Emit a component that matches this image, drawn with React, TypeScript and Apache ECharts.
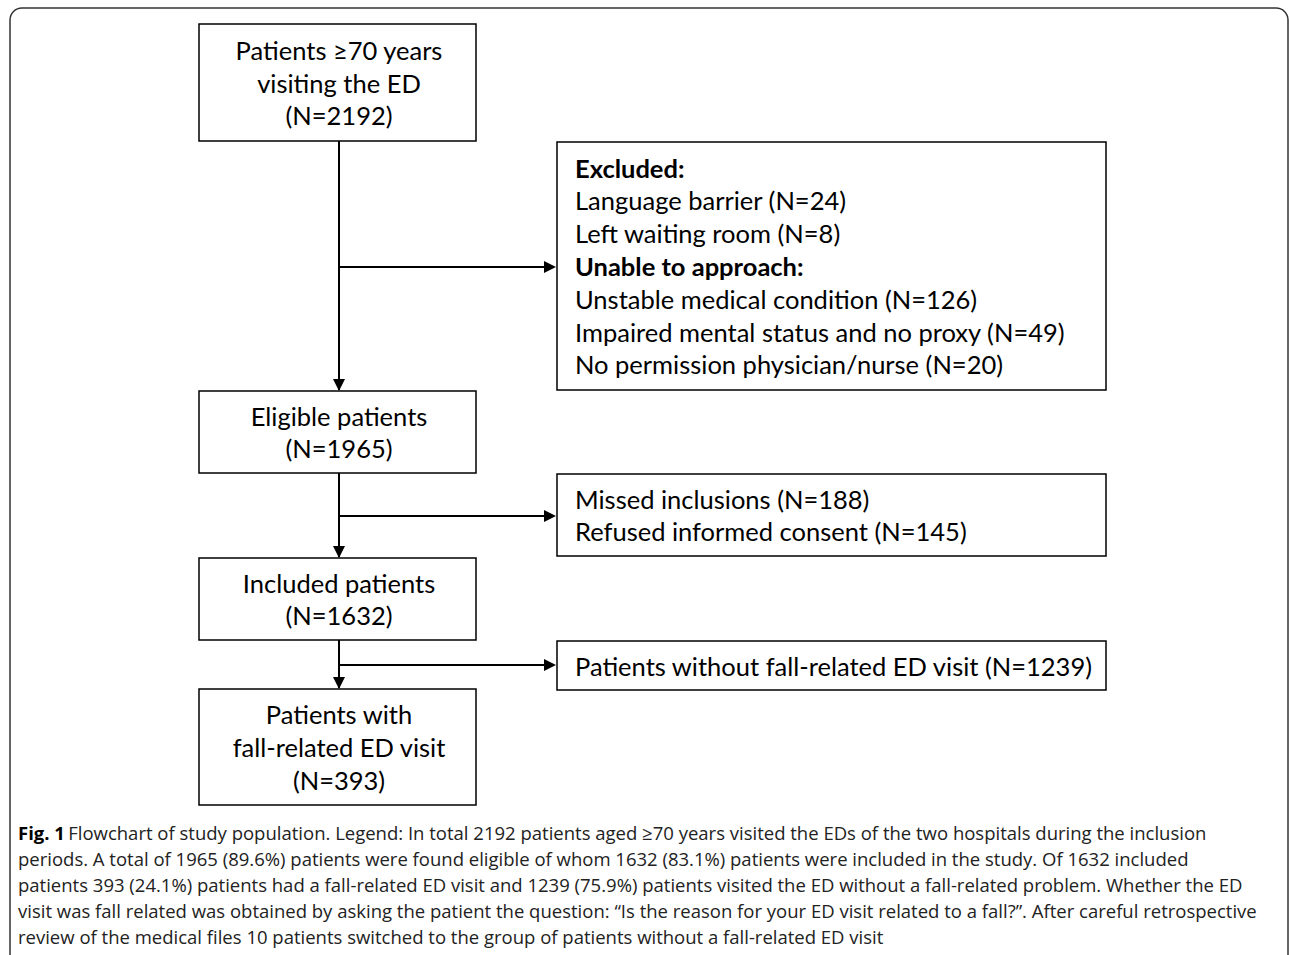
import { useEffect, useRef } from "react";
import * as echarts from "echarts";

const mainBoxes = [
  { lines: ["Patients ≥70 years", "visiting the ED", "(N=2192)"], top: 24, bottom: 141 },
  { lines: ["Eligible patients", "(N=1965)"], top: 391, bottom: 473 },
  { lines: ["Included patients", "(N=1632)"], top: 558, bottom: 640 },
  { lines: ["Patients with", "fall-related ED visit", "(N=393)"], top: 689, bottom: 805 },
];

const sideBoxes = [
  {
    lines: [
      "*Excluded:",
      "Language barrier (N=24)",
      "Left waiting room (N=8)",
      "*Unable to approach:",
      "Unstable medical condition (N=126)",
      "Impaired mental status and no proxy (N=49)",
      "No permission physician/nurse (N=20)",
    ],
    top: 142,
    bottom: 390,
    branchY: 267,
  },
  { lines: ["Missed inclusions (N=188)", "Refused informed consent (N=145)"], top: 474, bottom: 556, branchY: 516 },
  { lines: ["Patients without fall-related ED visit (N=1239)"], top: 641, bottom: 690, branchY: 665 },
];

const captionLines = [
  "Flowchart of study population. Legend: In total 2192 patients aged ≥70 years visited the EDs of the two hospitals during the inclusion",
  "periods. A total of 1965 (89.6%) patients were found eligible of whom 1632 (83.1%) patients were included in the study. Of 1632 included",
  "patients 393 (24.1%) patients had a fall-related ED visit and 1239 (75.9%) patients visited the ED without a fall-related problem. Whether the ED",
  "visit was fall related was obtained by asking the patient the question: “Is the reason for your ED visit related to a fall?”. After careful retrospective",
  "review of the medical files 10 patients switched to the group of patients without a fall-related ED visit",
];

const FONT = "Lato, 'Open Sans', sans-serif";
const LINE_H = 32.8;

function arrowHead(x: number, y: number, dir: "down" | "right"): any {
  const pts =
    dir === "down"
      ? [[x - 6, y - 12], [x + 6, y - 12], [x, y]]
      : [[x - 12, y - 6], [x - 12, y + 6], [x, y]];
  return { type: "polygon", shape: { points: pts }, style: { fill: "#000" } };
}

export default function App() {
  const ref = useRef<HTMLDivElement | null>(null);

  useEffect(() => {
    if (!ref.current) return;
    const chart = echarts.init(ref.current, null, { renderer: "svg" });
    const els: any[] = [];
    const boxX = 199, boxW = 277, sideX = 557, sideW = 549, cx = 339;

    els.push({
      type: "rect",
      shape: { x: 10, y: 8, width: 1278, height: 980, r: 12 },
      style: { fill: "#fff", stroke: "#333", lineWidth: 1.5 },
    });

    mainBoxes.forEach((b, i) => {
      els.push({
        type: "rect",
        shape: { x: boxX, y: b.top, width: boxW, height: b.bottom - b.top },
        style: { fill: "#fff", stroke: "#000", lineWidth: 1.5 },
      });
      const mid = (b.top + b.bottom) / 2;
      b.lines.forEach((t, j) => {
        els.push({
          type: "text",
          x: cx,
          y: mid + (j - (b.lines.length - 1) / 2) * LINE_H,
          style: { text: t, font: `25.5px ${FONT}`, fill: "#000", align: "center", verticalAlign: "middle" },
        });
      });
      const next = mainBoxes[i + 1];
      if (next) {
        els.push({
          type: "line",
          shape: { x1: cx, y1: b.bottom, x2: cx, y2: next.top - 1 },
          style: { stroke: "#000", lineWidth: 2 },
        });
        els.push(arrowHead(cx, next.top, "down"));
      }
    });

    sideBoxes.forEach((b) => {
      els.push({
        type: "rect",
        shape: { x: sideX, y: b.top, width: sideW, height: b.bottom - b.top },
        style: { fill: "#fff", stroke: "#000", lineWidth: 1.5 },
      });
      const mid = (b.top + b.bottom) / 2;
      b.lines.forEach((t, j) => {
        const bold = t.startsWith("*");
        els.push({
          type: "text",
          x: 575,
          y: mid + (j - (b.lines.length - 1) / 2) * LINE_H,
          style: {
            text: bold ? t.slice(1) : t,
            font: `${bold ? "bold " : ""}25.5px ${FONT}`,
            fill: "#000",
            align: "left",
            verticalAlign: "middle",
          },
        });
      });
      els.push({
        type: "line",
        shape: { x1: cx, y1: b.branchY, x2: sideX - 3, y2: b.branchY },
        style: { stroke: "#000", lineWidth: 2 },
      });
      els.push(arrowHead(sideX - 1, b.branchY, "right"));
    });

    captionLines.forEach((t, i) => {
      els.push({
        type: "text",
        x: 18,
        y: 832 + i * 26,
        style: {
          rich: {
            b: { font: `bold 18.5px 'Open Sans', sans-serif`, fill: "#000" },
            n: { font: `18.5px 'Open Sans', sans-serif`, fill: "#222" },
          },
          text: i === 0 ? `{b|Fig. 1} {n|${t}}` : `{n|${t}}`,
          align: "left",
          verticalAlign: "middle",
        },
      });
    });

    chart.setOption({ animation: false, graphic: { elements: els } });
    return () => chart.dispose();
  }, []);

  return (
    <div
      ref={ref}
      style={{ position: "absolute", left: 0, top: 0, width: 1290, height: 955, background: "#fff" }}
    />
  );
}
